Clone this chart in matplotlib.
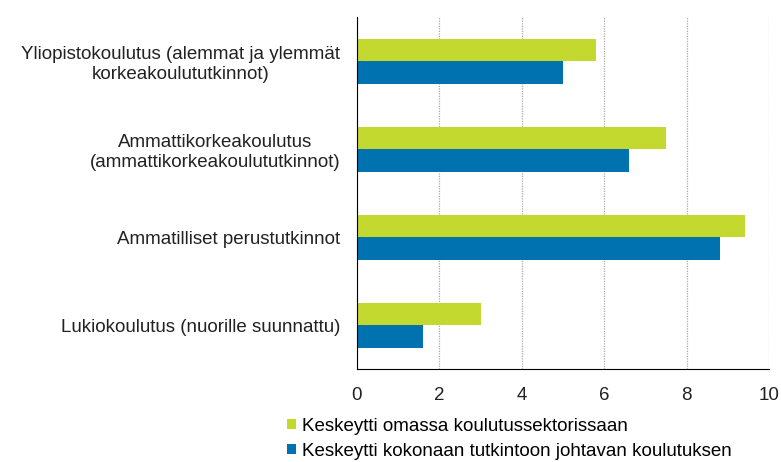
import numpy as np
import matplotlib.pyplot as plt

plt.rcParams['font.family'] = ['Liberation Sans', 'DejaVu Sans']

#   categories, top to bottom
categories = ['Yliopistokoulutus (alemmat ja ylemmät\nkorkeakoulututkinnot)',
              'Ammattikorkeakoulutus\n(ammattikorkeakoulututkinnot)',
              'Ammatilliset perustutkinnot',
              'Lukiokoulutus (nuorille suunnattu)']
own_sector = [5.8, 7.5, 9.4, 3.0]
total = [5.0, 6.6, 8.8, 1.6]
series_names = ['Keskeytti omassa koulutussektorissaan',
                'Keskeytti kokonaan tutkintoon johtavan koulutuksen']
xticks = [0, 2, 4, 6, 8, 10]

green = '#c3d92f'
blue = '#0072b0'
fs = 13.5

fig = plt.figure(figsize=(7.81, 4.62), dpi=100)
ax = fig.add_axes([0.457, 0.201, 0.528, 0.762])

y = np.arange(len(categories))[::-1]
h = 0.255
b1 = ax.barh(y + h / 2, own_sector, height=h, color=green, label=series_names[0])
b2 = ax.barh(y - h / 2, total, height=h, color=blue, label=series_names[1])

ax.set_xlim(0, 10)
ax.set_ylim(-0.5, len(categories) - 0.5)
ax.set_xticks(xticks)
ax.set_yticks(y)
ax.set_yticklabels(categories, ha='right', multialignment='center',
                   fontsize=fs, color='#222222', linespacing=1.25)
ax.tick_params(axis='y', length=0, pad=12)
ax.tick_params(axis='x', length=0, pad=13, labelsize=fs, labelcolor='#222222')

ax.grid(axis='x', color='#aaaaaa', linestyle=(0, (1, 1)), linewidth=0.9)
ax.set_axisbelow(True)
for s in ['top', 'right']:
    ax.spines[s].set_visible(False)
ax.spines['left'].set_color('black')
ax.spines['bottom'].set_color('black')

leg = fig.legend(handles=[b1, b2], loc='upper left', bbox_to_anchor=(0.358, 0.112),
                 frameon=False, fontsize=fs, handlelength=0.5, handleheight=0.5,
                 handletextpad=0.3, labelspacing=0.42, borderaxespad=0)

fig.savefig('out.png', dpi=100)
